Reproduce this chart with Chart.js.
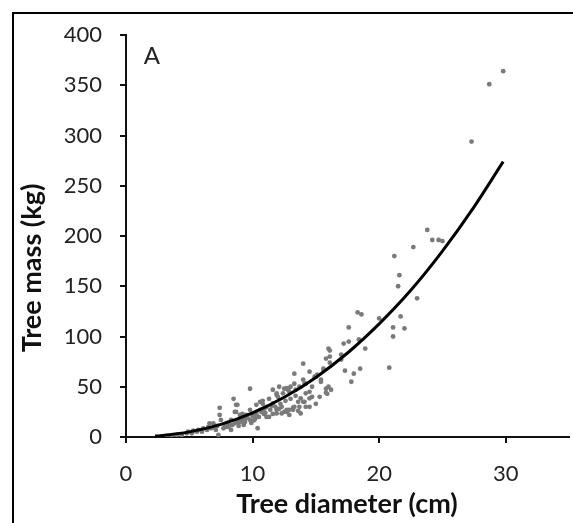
<!DOCTYPE html>
<html>
<head>
<meta charset="utf-8">
<script src="https://cdn.jsdelivr.net/npm/chart.js@4.4.1/dist/chart.umd.min.js"></script>
<style>
  html, body { margin: 0; padding: 0; background: #fff; }
</style>
</head>
<body>
<canvas id="massChart" width="573" height="523"></canvas>
<script>
// tree diameter (cm) vs tree mass (kg)
const treeSamples = [
  [29.8,364],[28.7,351],[27.3,294],[23.8,206],[24.2,196],[24.7,196],[25.0,195],[22.7,189],
  [21.2,180],[21.6,161],[21.5,150],[23.0,138],[18.3,124],[18.6,122],[20.0,118],[21.7,120],
  [17.6,109],[21.1,109],[22.0,108],[21.1,100],[17.2,93],[17.6,95],[18.4,97],[18.9,88],
  [16.0,88],[16.1,86],[17.0,82],[15.8,78],[16.1,74],[15.6,68],[17.3,66],[18.5,68],
  [20.8,69],[18.0,63],[17.8,55],[15.4,57],[16.0,50],[16.2,47],[15.8,44],[14.0,73],
  [17.0,77],[16.1,80],[14.5,65],[15.1,62],[15.6,67],[14.0,57],[14.2,53],[14.9,60],
  [15.4,55],[14.7,50],[14.5,45],[15.8,48],[15.9,43],[13.7,30],[14.2,30],[14.0,35],
  [13.3,63],[9.8,48],[8.5,38],[12.1,50],[12.5,48],[12.8,47],[13.0,50],[13.4,47],
  [11.6,47],[11.9,42],[11.3,38],[10.6,35],[10.8,33],[10.3,32],[14.5,30],[15.0,33],
  [15.3,40],[14.7,40],[13.2,29],[12.7,27],[12.3,30],[11.9,27],[11.6,23],[10.4,8.7],
  [8.7,25],[9.0,22],[9.2,23],[9.5,20],[9.8,27],[10.0,23],[10.3,25],[10.7,25],
  [10.9,23],[11.1,20],[11.3,20],[8.3,17],[8.6,13.6],[9.0,15],[9.4,15],[9.8,17],
  [7.4,29],[7.4,22],[7.5,17],[8.7,32],[8.6,25],[6.6,13.6],[6.7,8.6],[6.4,7],
  [6.0,5.3],[5.6,5.3],[5.2,3.7],[4.8,3.7],[4.4,2],[4.0,2],[3.6,1],[3.2,1],
  [7.9,10],[8.2,12],[8.3,7],[8.8,32],[6.9,13.6],[6.5,10],[6.1,8.6],[5.7,7],
  [5.3,6.3],[4.9,5.3],[7.1,7],[7.7,8.6],[8.1,10],[8.4,12],[8.8,15],[9.2,18.6],
  [9.5,22],[15.0,60],[13.3,53],[13.7,50],[14.1,53],[14.2,43.5],[14.5,38.5],[14.1,35],
  [13.8,38.5],[13.6,35],[13.3,30],[12.9,27],[12.5,25],[11.6,33.5],[11.1,30],[10.8,36],
  [10.6,27],[10.3,22],[10.0,21],[9.6,19],[9.4,17.6],[9.1,16],[11.9,23.5],[12.3,23.5],
  [12.7,25],[12.9,22],[13.2,27],[13.6,26],[13.8,23.5],[12.9,45],[12.4,43.5],[11.9,43.5],
  [12.7,48.5],[7.3,2],[12.0,40],[11.0,29],[10.2,18],[10.5,20],[11.0,24],[11.4,27],
  [11.8,30],[12.2,33],[12.6,36],[13.0,38],[13.4,41],[10.9,28],[11.5,31],[12.1,28],
  [9.9,14],[10.1,16.5],[9.3,12],[8.9,11],[8.0,14],[7.8,12],[7.2,11],[6.9,9]
];

// fitted curve
const curveDiameter = [2.3, 2.5, 5, 7.5, 10, 12.5, 15, 17.5, 20, 22.5, 25, 27.5, 29.8];
const curveMass     = [0.9, 1.1, 5.1, 12.6, 24, 39.5, 59.3, 83.6, 112.6, 146, 185, 229, 274];

const xTicks = [0, 10, 20, 30];
const yTicks = [0, 50, 100, 150, 200, 250, 300, 350, 400];

const xTitle = 'Tree diameter (cm)';
const yTitle = 'Tree mass (kg)';
const panelLabel = 'A';

const fontFamily = 'Lato, "Open Sans", sans-serif';

// frame + axis titles + panel letter
const decorPlugin = {
  id: 'decor',
  beforeDraw(chart) {
    const ctx = chart.ctx;
    ctx.save();
    ctx.strokeStyle = '#000';
    ctx.lineWidth = 2;
    ctx.beginPath();
    ctx.moveTo(13, 523);
    ctx.lineTo(13, 13);
    ctx.lineTo(573, 13);
    ctx.stroke();
    ctx.restore();
  },
  afterDraw(chart) {
    const ctx = chart.ctx;
    const x = chart.scales.x, y = chart.scales.y;
    ctx.save();
    ctx.fillStyle = '#111';
    ctx.font = 'bold 27px ' + fontFamily;
    ctx.textAlign = 'center';
    ctx.textBaseline = 'middle';
    ctx.fillText(xTitle, 347, 504);
    ctx.translate(32, 268);
    ctx.rotate(-Math.PI / 2);
    ctx.fillText(yTitle, 0, 0);
    ctx.restore();

    ctx.save();
    ctx.fillStyle = '#222';
    ctx.font = '24px ' + fontFamily;
    ctx.textAlign = 'center';
    ctx.textBaseline = 'middle';
    ctx.fillText(panelLabel, x.getPixelForValue(2.05), y.getPixelForValue(379));
    ctx.restore();
  }
};

new Chart(document.getElementById('massChart'), {
  type: 'scatter',
  data: {
    datasets: [
      {
        type: 'line',
        data: curveDiameter.map((d, i) => ({ x: d, y: curveMass[i] })),
        borderColor: '#000',
        borderWidth: 3,
        pointRadius: 0,
        cubicInterpolationMode: 'monotone',
        fill: false
      },
      {
        data: treeSamples.map(p => ({ x: p[0], y: p[1] })),
        backgroundColor: '#7a7a7a',
        borderWidth: 0,
        pointRadius: 2.4
      }
    ]
  },
  options: {
    responsive: false,
    devicePixelRatio: 1,
    animation: false,
    layout: { padding: { top: 35, right: 3, bottom: 0, left: 0 } },
    plugins: { legend: { display: false }, tooltip: { enabled: false } },
    scales: {
      x: {
        type: 'linear',
        min: 0, max: 35,
        afterBuildTicks: s => { s.ticks = xTicks.map(v => ({ value: v })); },
        afterFit: s => { s.height = 86; },
        grid: { drawOnChartArea: false, drawTicks: true, tickLength: 6, color: '#111', lineWidth: 2 },
        border: { display: true, color: '#111', width: 2 },
        ticks: { font: { family: fontFamily, size: 22 }, color: '#222', padding: 18 }
      },
      y: {
        type: 'linear',
        min: 0, max: 400,
        afterBuildTicks: s => { s.ticks = yTicks.map(v => ({ value: v })); },
        afterFit: s => { s.width = 126; },
        grid: { drawOnChartArea: false, drawTicks: true, tickLength: 6, color: '#111', lineWidth: 2 },
        border: { display: true, color: '#111', width: 2 },
        ticks: { font: { family: fontFamily, size: 22 }, color: '#222', padding: 18 }
      }
    }
  },
  plugins: [decorPlugin]
});
</script>
</body>
</html>
